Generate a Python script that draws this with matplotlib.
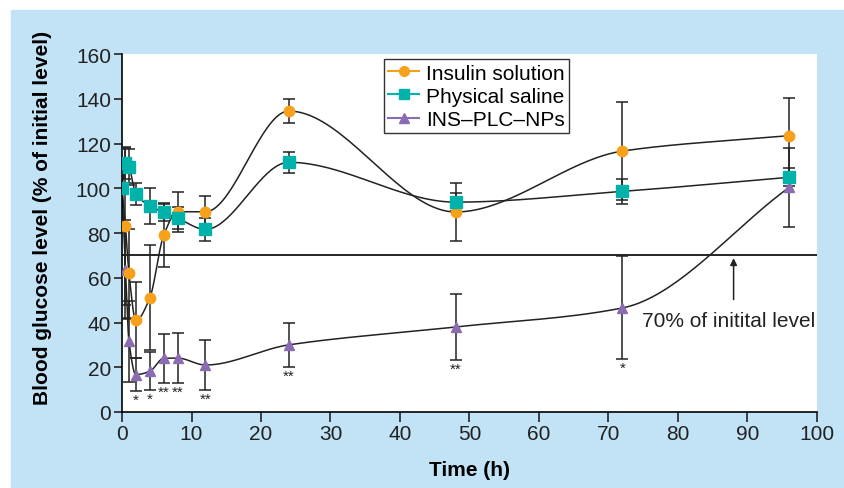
import numpy as np
import matplotlib.pyplot as plt
from matplotlib.lines import Line2D
from matplotlib.patches import Rectangle

plt.rcParams['font.family'] = ['Liberation Sans', 'DejaVu Sans']

# time points (h)
t = [0, 0.5, 1, 2, 4, 6, 8, 12, 24, 48, 72, 96]

insulin = [100, 83, 62, 41, 51, 79, 89.5, 89.5, 134.5, 89.4, 116.6, 123.5]
insulin_err = [0, 35, 20, 17, 23.5, 14, 9, 7, 5.5, 13, 22, 17]

saline = [100, 111.3, 109.5, 97.4, 92.2, 89.2, 86.6, 81.6, 111.6, 93.8, 98.6, 104.9]
saline_err = [0, 7, 8, 5, 8, 4, 5, 5, 4.7, 4, 5.5, 4]

nps = [100, 63.6, 31.6, 16.7, 18.2, 24, 24.1, 21, 30, 38, 46.5, 100.4]
nps_err = [0, 22, 18, 7.5, 8.5, 11, 11, 11, 10, 14.6, 23, 17.5]
nps_stars = ['', '', '', '*', '*', '**', '**', '**', '**', '**', '*', '']

c_ins = '#F7A11A'
c_sal = '#00B2A9'
c_nps = '#8B6BB1'


def smooth(x, y, n=40):
    # piecewise cubic hermite, monotone-style tangents
    x = np.asarray(x, float)
    y = np.asarray(y, float)
    d = np.diff(y) / np.diff(x)
    m = np.zeros_like(y)
    for i in range(1, len(y) - 1):
        if d[i - 1] * d[i] > 0:
            m[i] = 2 / (1 / d[i - 1] + 1 / d[i])
    m[0] = d[0]
    m[-1] = d[-1]
    xs, ys = [], []
    for i in range(len(x) - 1):
        h = x[i + 1] - x[i]
        s = np.linspace(0, 1, n)
        h00 = 2 * s**3 - 3 * s**2 + 1
        h10 = s**3 - 2 * s**2 + s
        h01 = -2 * s**3 + 3 * s**2
        h11 = s**3 - s**2
        xs.append(x[i] + s * h)
        ys.append(h00 * y[i] + h10 * h * m[i] + h01 * y[i + 1] + h11 * h * m[i + 1])
    return np.concatenate(xs), np.concatenate(ys)


fig = plt.figure(figsize=(8.45, 4.89), dpi=100)
fig.patches.append(Rectangle((11 / 845, 0), 1, 1 - 11 / 489, transform=fig.transFigure,
                             color='#C1E3F5', zorder=-10))
ax = fig.add_axes([122 / 845, 1 - 413 / 489, 695 / 845, 358 / 489])
ax.set_facecolor('white')

series = [(nps, nps_err, c_nps, '^', 7, 4),
          (insulin, insulin_err, c_ins, 'o', 7.5, 5),
          (saline, saline_err, c_sal, 's', 8, 6)]
for y, e, c, mk, ms, z in series:
    sx, sy = smooth(t, y)
    ax.plot(sx, sy, color='#222222', lw=1.1, zorder=2)
    ax.errorbar(t, y, yerr=e, fmt='none', ecolor='#222222', elinewidth=1.1,
                capsize=4, capthick=1.1, zorder=3)
    ax.plot(t, y, ls='none', marker=mk, color=c, ms=ms, mec=c, zorder=z)

for x, y, e, s in zip(t, nps, nps_err, nps_stars):
    if s:
        ax.text(x, y - e - 0.8, s, ha='center', va='top', fontsize=11, color='#222222')

ax.axhline(70, color='black', lw=1.2, zorder=1)
ax.annotate('', xy=(88, 70), xytext=(88, 49),
            arrowprops=dict(arrowstyle='-|>', color='#222222', lw=1.1, mutation_scale=10))
ax.text(99.8, 41, '70% of initital level', ha='right', va='center', fontsize=15,
        color='#222222')

handles = [Line2D([], [], color=c_ins, marker='o', ms=7),
           Line2D([], [], color=c_sal, marker='s', ms=7),
           Line2D([], [], color=c_nps, marker='^', ms=7)]
leg = ax.legend(handles, ['Insulin solution', 'Physical saline', 'INS\u2013PLC\u2013NPs'],
                loc='upper left', bbox_to_anchor=(0.377, 0.985), fontsize=15,
                frameon=True, fancybox=False, edgecolor='black', handlelength=1.5,
                handletextpad=0.3, borderpad=0.2, labelspacing=0.2, borderaxespad=0)
leg.get_frame().set_linewidth(1.0)

ax.set_xlim(0, 100)
ax.set_ylim(0, 160)
ax.set_xticks(range(0, 101, 10))
ax.set_yticks(range(0, 161, 20))
ax.spines['top'].set_visible(False)
ax.spines['right'].set_visible(False)
ax.spines['left'].set_linewidth(1.2)
ax.spines['bottom'].set_linewidth(1.2)
ax.tick_params(direction='out', width=1.2, labelsize=15, colors='#222222', pad=2)
ax.tick_params(axis='x', length=7)
ax.tick_params(axis='y', length=6)
ax.set_xlabel('Time (h)', fontsize=15, fontweight='bold')
ax.set_ylabel('Blood glucose level (% of initial level)', fontsize=15, fontweight='bold')
ax.xaxis.set_label_coords(0.5, -0.135)
ax.yaxis.set_label_coords(-0.1, 0.546)

fig.savefig('out.png', dpi=100)
